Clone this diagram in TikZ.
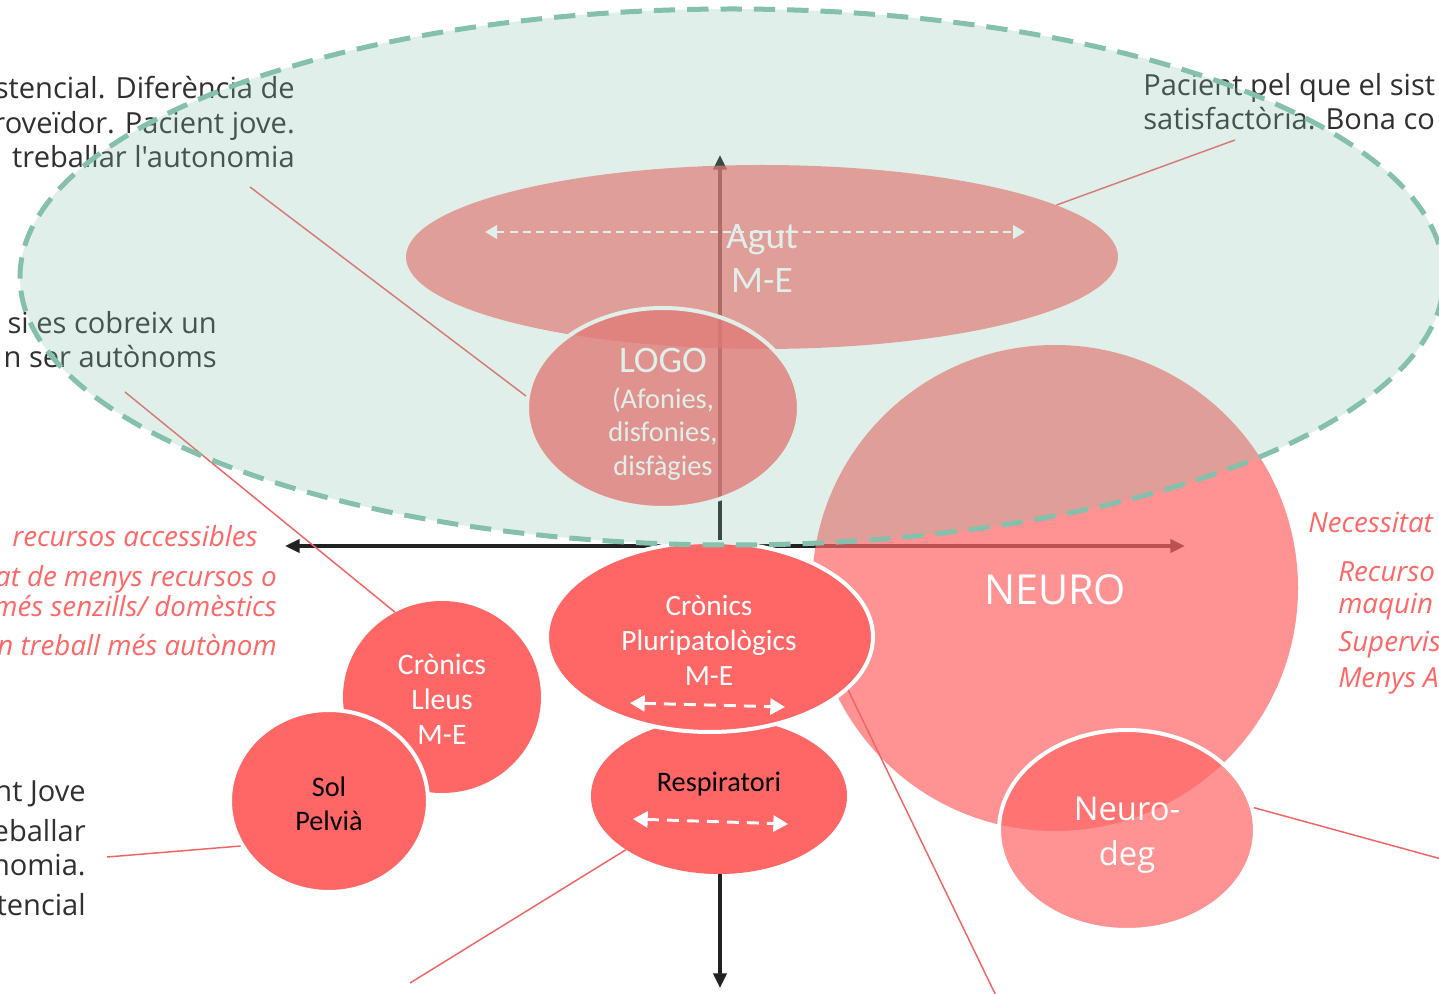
\documentclass[tikz,border=0pt]{standalone}
\usepackage{fontspec}
\setmainfont{Carlito}
\newfontfamily\widefont{Open Sans}
\usetikzlibrary{shapes.geometric,arrows.meta}
\definecolor{rd}{HTML}{FF6666}
\definecolor{zonec}{HTML}{84C0AC}
\definecolor{ink}{HTML}{303030}
\definecolor{axisc}{HTML}{222222}
\definecolor{linkc}{HTML}{F26464}
\begin{document}
\begin{tikzpicture}[x=0.75pt,y=-0.75pt,
  blob/.style={ellipse, inner sep=0pt, fill=rd},
  rim/.style={draw=white, line width=3pt},
  lbl/.style={inner sep=0pt, align=center},
  axisarrow/.style={draw=axisc, line width=2.5pt, -{Triangle[length=11pt,width=10pt]}},
  warrow/.style={draw=white, line width=2.2pt, dash pattern=on 6pt off 4pt,
    {Triangle[length=9pt,width=10pt]}-{Triangle[length=9pt,width=10pt]}},
  wbarrow/.style={draw=white, line width=2.2pt, dash pattern=on 9pt off 6pt,
    {Triangle[length=11pt,width=12pt]}-{Triangle[length=11pt,width=12pt]}},
  link/.style={draw=linkc, line width=1.1pt},
  side/.style={inner sep=0pt, text=ink, font=\widefont\fontsize{21.8}{25}\selectfont, text height=16pt, text depth=0.5pt},
  note/.style={inner sep=0pt, text=rd, font=\widefont\fontsize{20.8}{25}\selectfont\itshape, text height=16pt, text depth=1pt}
]
\useasboundingbox (0,0) rectangle (1439,994);
\fill[white] (0,0) rectangle (1439,994);

% axes
\coordinate (o) at (720,546);
\coordinate (ax-l) at (285,546);
\coordinate (ax-r) at (1185,546);
\coordinate (ax-t) at (720,155);
\coordinate (ax-b) at (720,988);
\draw[axisarrow] (o) -- (ax-l);
\draw[axisarrow] (o) -- (ax-r);
\draw[axisarrow] (o) -- (ax-t);
\draw[axisarrow] (o) -- (ax-b);

% Agut
\node[blob, fill opacity=0.7, minimum width=534pt, minimum height=138pt] (agut) at (762,257) {};
\coordinate (agut-l) at (485,232);
\coordinate (agut-r) at (1025,232);
\draw[warrow] (agut-l) -- (agut-r);
\node[lbl, text=white, font=\fontsize{28}{33}\selectfont] (agut-t) at (762,259) {Agut\\M-E};

% LOGO
\node[blob, fill opacity=0.8, rim, minimum width=204pt, minimum height=150pt] (logo) at (663,408) {};
\node[lbl, text=white, font=\fontsize{28}{30}\selectfont] (logo-t) at (663,361) {LOGO};
\node[lbl, text=white, font=\fontsize{21.3}{25}\selectfont] (logo-s) at (663,434) {(Afonies,\\disfonies,\\disfàgies};

% NEURO
\node[blob, fill opacity=0.7, minimum size=364.5pt] (neuro) at (1055,588) {};
\node[lbl, text=white, font=\widefont\fontsize{31}{36}\selectfont] (neuro-t) at (1055,590) {NEURO};

% Neuro-deg
\node[blob, fill opacity=0.7, rim, minimum width=192pt, minimum height=150pt] (ndeg) at (1127,830) {};
\node[lbl, text=white, font=\widefont\fontsize{24.6}{34}\selectfont] (ndeg-t) at (1127,835) {Neuro-\\deg};

% Cronics lleus and sol pelvia
\node[blob, minimum width=148.5pt, minimum height=144pt] (lleus) at (442,697) {};
\node[lbl, text=white, font=\fontsize{22.3}{26.25}\selectfont] (lleus-t) at (442,699) {Crònics\\Lleus\\M-E};
\node[blob, rim, minimum width=148.5pt, minimum height=136.5pt] (sol) at (329,801) {};
\node[lbl, text=black, font=\fontsize{21.2}{25.5}\selectfont] (sol-t) at (329,804) {Sol\\Pelvià};

% Respiratori and pluripatologics
\node[blob, minimum width=192pt, minimum height=117pt] (resp) at (719,796) {};
\node[lbl, text=black, font=\fontsize{21.2}{26}\selectfont] (resp-t) at (719,784) {Respiratori};
\coordinate (resp-l) at (633,819);
\coordinate (resp-r) at (788,824);
\draw[wbarrow] (resp-l) -- (resp-r);
\node[blob, rim, minimum width=244.5pt, minimum height=142.5pt] (plur) at (710,637) {};
\node[lbl, text=white, font=\fontsize{22}{26.25}\selectfont] (plur-t) at (709,640) {Crònics\\Pluripatològics\\M-E};
\coordinate (plur-l) at (630,703);
\coordinate (plur-r) at (785,707);
\draw[wbarrow] (plur-l) -- (plur-r);

% connectors
\coordinate (k1) at (250,187);
\coordinate (k2) at (125,392);
\coordinate (k3) at (1235,140);
\coordinate (k4) at (107,857);
\coordinate (k5) at (410,983);
\coordinate (k6) at (1000,1004);
\coordinate (k7) at (1445,860);
\draw[link] (k1) -- (logo.175);
\draw[link] (k2) -- (lleus.119);
\draw[link] (agut.10.5) -- (k3);
\draw[link] (k4) -- (sol.207);
\draw[link] (resp.210) -- (k5);
\draw[link] (plur.-21) -- (k6);
\draw[link] (ndeg.10.6) -- (k7);

% side texts
\node[side, anchor=east] (tl1) at (295,88) {stencial. Diferència de};
\node[side, anchor=east] (tl2) at (295,123) {roveïdor. Pacient jove.};
\node[side, anchor=east] (tl3) at (295,157) {treballar l'autonomia};
\node[side, anchor=east] (ml1) at (217,323) {si es cobreix un};
\node[side, anchor=east] (ml2) at (217,357) {n ser autònoms};
\node[side, anchor=east] (bl1) at (86,791) {nt Jove};
\node[side, anchor=east] (bl2) at (86,831) {eballar};
\node[side, anchor=east] (bl3) at (86,865) {nomia.};
\node[side, anchor=east] (bl4) at (86,905) {tencial};
\node[side, anchor=west] (tr1) at (1143,85) {Pacient pel que el sist};
\node[side, anchor=west] (tr2) at (1143,119) {satisfactòria. Bona co};

\node[note, anchor=east] (nl1) at (258,537) {recursos accessibles};
\node[note, anchor=east] (nl2) at (277,577) {at de menys recursos o};
\node[note, anchor=east] (nl3) at (277,607) {més senzills/ domèstics};
\node[note, anchor=east] (nl4) at (277,645) {n treball més autònom};
\node[note, anchor=west] (nr1) at (1308,523) {Necessitat};
\node[note, anchor=west] (nr2) at (1338,571) {Recurso};
\node[note, anchor=west] (nr3) at (1338,604) {maquin};
\node[note, anchor=west] (nr4) at (1338,641) {Supervis};
\node[note, anchor=west] (nr5) at (1338,677) {Menys A};

% translucent zone on top
\node[ellipse, inner sep=0pt, minimum width=1068pt, minimum height=402pt,
  fill=zonec, fill opacity=0.25, draw=zonec, draw opacity=1, line width=3.75pt,
  dash pattern=on 16pt off 9pt] (zone) at (732,277) {};
\end{tikzpicture}
\end{document}
